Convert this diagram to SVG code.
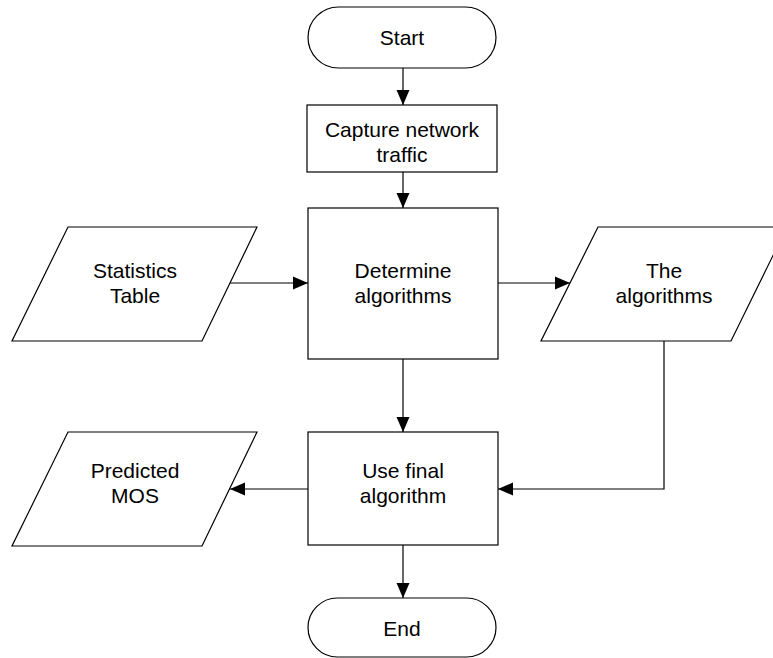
<svg xmlns="http://www.w3.org/2000/svg" width="773" height="658" viewBox="0 0 773 658">
  <style>
    .shape { fill: #ffffff; stroke: #000000; stroke-width: 1.2; }
    .label { font-family: "Liberation Sans", Arial, sans-serif; font-size: 21px; fill: #000000; text-anchor: middle; }
    .wire { fill: none; stroke: #000000; stroke-width: 1.2; marker-end: url(#arrow); }
  </style>
  <defs>
    <marker id="arrow" markerUnits="userSpaceOnUse" markerWidth="16" markerHeight="14" refX="15" refY="7" orient="auto">
      <path d="M0,0.5 L15,7 L0,13.5 z" fill="#000000"/>
    </marker>
  </defs>
  <rect width="773" height="658" fill="#ffffff"/>

  <!-- connectors -->
  <g id="connectors">
    <line class="wire" x1="403" y1="68" x2="403" y2="105"/>
    <line class="wire" x1="403" y1="172" x2="403" y2="208"/>
    <line class="wire" x1="230" y1="283" x2="308" y2="283"/>
    <line class="wire" x1="498" y1="283" x2="570" y2="283"/>
    <line class="wire" x1="403" y1="359" x2="403" y2="432"/>
    <polyline class="wire" points="664,341 664,489 498,489"/>
    <line class="wire" x1="308" y1="489" x2="230" y2="489"/>
    <line class="wire" x1="403" y1="545" x2="403" y2="598"/>
  </g>

  <!-- terminator: start -->
  <g id="start">
    <rect class="shape" x="308" y="7" width="188" height="61" rx="30.5" ry="30.5"/>
    <text class="label" x="402" y="45">Start</text>
  </g>

  <!-- process: capture -->
  <g id="capture">
    <rect class="shape" x="307" y="105" width="190" height="67"/>
    <text class="label" x="402" y="137">Capture network</text>
    <text class="label" x="402" y="162">traffic</text>
  </g>

  <!-- process: determine -->
  <g id="determine">
    <rect class="shape" x="308" y="208" width="190" height="151"/>
    <text class="label" x="403" y="278">Determine</text>
    <text class="label" x="403" y="303">algorithms</text>
  </g>

  <!-- data: statistics table -->
  <g id="statistics">
    <polygon class="shape" points="68,227 257,227 202,341 12,341"/>
    <text class="label" x="135" y="278">Statistics</text>
    <text class="label" x="135" y="303">Table</text>
  </g>

  <!-- data: the algorithms -->
  <g id="algorithms">
    <polygon class="shape" points="598,227 787,227 731,341 541,341"/>
    <text class="label" x="664" y="278">The</text>
    <text class="label" x="664" y="303">algorithms</text>
  </g>

  <!-- process: final algorithm -->
  <g id="final">
    <rect class="shape" x="308" y="432" width="190" height="113"/>
    <text class="label" x="403" y="478">Use final</text>
    <text class="label" x="403" y="503">algorithm</text>
  </g>

  <!-- data: predicted MOS -->
  <g id="mos">
    <polygon class="shape" points="68,432 257,432 202,546 12,546"/>
    <text class="label" x="135" y="478">Predicted</text>
    <text class="label" x="135" y="503">MOS</text>
  </g>

  <!-- terminator: end -->
  <g id="end">
    <rect class="shape" x="308" y="598" width="188" height="59" rx="29.5" ry="29.5"/>
    <text class="label" x="402" y="636">End</text>
  </g>
</svg>
